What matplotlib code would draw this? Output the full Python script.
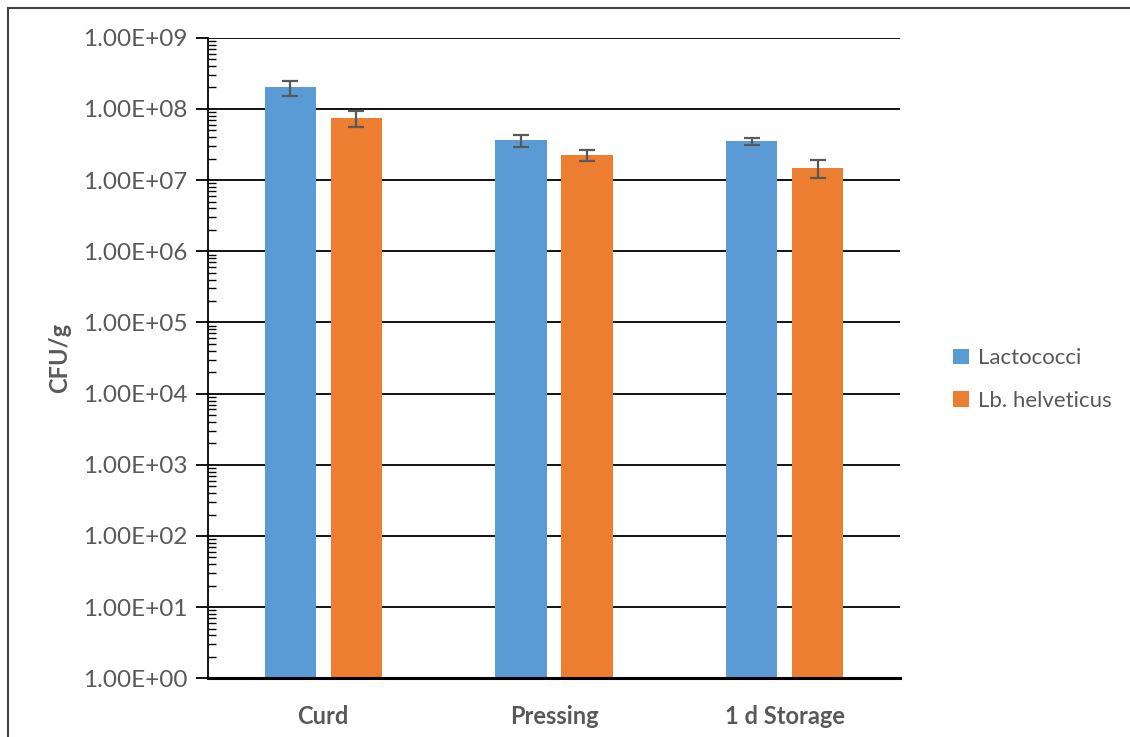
import matplotlib
matplotlib.use("Agg")
import numpy as np
from matplotlib import pyplot as plt
from matplotlib.patches import Rectangle
from matplotlib.ticker import FixedLocator, FuncFormatter, NullFormatter

plt.rcParams["font.family"] = ["Lato", "DejaVu Sans"]

# ==== data ====
stages = ["Curd", "Pressing", "1 d Storage"]
lactococci = [2.0e8, 3.65e7, 3.5e7]
lactococci_err = [5.0e7, 7.0e6, 4.2e6]
helveticus = [7.4e7, 2.25e7, 1.5e7]
helveticus_err = [1.9e7, 4.0e6, 4.3e6]

BLUE = "#5B9BD5"
ORANGE = "#ED7D31"
GREY = "#595959"

fig = plt.figure(figsize=(11.3, 7.37), dpi=100)
ax = fig.add_axes([0.184, 0.0796, 0.6125, 0.8692])

# outer frame (only top/left fall inside the canvas)
fig.patches.append(Rectangle((8 / 1130, -0.1), 1.2, (737 - 8) / 737 + 0.1,
                             transform=fig.transFigure, fill=False,
                             edgecolor="#404040", linewidth=1.5))

x = np.arange(len(stages))
w = 0.222
off = 0.143
err_kw = dict(ecolor=GREY, elinewidth=1.6, capsize=5.5, capthick=1.6)
ax.bar(x - off, lactococci, w, yerr=lactococci_err, color=BLUE, label="Lactococci",
       error_kw=err_kw, zorder=3)
ax.bar(x + off, helveticus, w, yerr=helveticus_err, color=ORANGE, label="Lb. helveticus",
       error_kw=err_kw, zorder=3)

ax.set_yscale("log")
ax.set_ylim(1, 1e9)
ax.set_xlim(-0.5, 2.5)
decades = [10.0 ** k for k in range(10)]
minors = [m * d for d in decades[:-1] for m in range(2, 10)]
ax.yaxis.set_major_locator(FixedLocator(decades))
ax.yaxis.set_minor_locator(FixedLocator(minors))
ax.yaxis.set_major_formatter(FuncFormatter(lambda v, p: f"{v:.2E}"))
ax.yaxis.set_minor_formatter(NullFormatter())
ax.grid(axis="y", which="major", color="black", linewidth=1.3, zorder=0)

for s in ["top", "right"]:
    ax.spines[s].set_visible(False)
ax.spines["left"].set_linewidth(1.3)
ax.spines["bottom"].set_linewidth(2.2)
ax.spines["bottom"].set_zorder(4)

ax.tick_params(axis="y", which="major", direction="out", length=9, width=1.3,
               labelsize=17.5, labelcolor=GREY, pad=6)
ax.tick_params(axis="y", which="minor", direction="in", length=6, width=1.0)
ax.tick_params(axis="x", length=0, pad=19)
ax.set_xticks(x)
ax.set_xticklabels(stages, fontsize=17, fontweight="bold", color=GREY)

ax.set_ylabel("CFU/g", fontsize=17, fontweight="bold", color=GREY, labelpad=8)

fig.legend(loc="center left", bbox_to_anchor=(0.826, 0.485), frameon=False,
           fontsize=16, handlelength=0.7, handleheight=0.7, handletextpad=0.4,
           labelspacing=1.0, labelcolor=GREY)

fig.savefig("out.png", dpi=100)
